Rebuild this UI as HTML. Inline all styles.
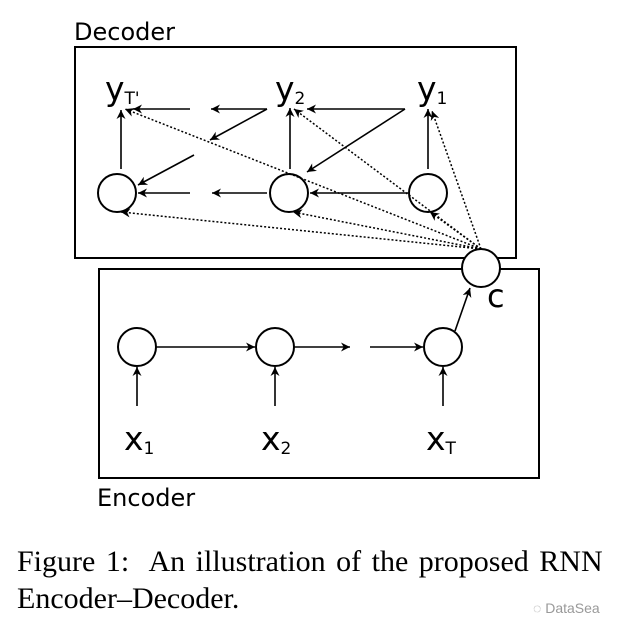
<!DOCTYPE html>
<html><head><style>
body{margin:0;background:#fff;width:638px;height:634px;overflow:hidden}
svg{position:absolute;left:0;top:0}
.cap{position:absolute;left:17px;font-family:"Liberation Serif",serif;font-size:30px;word-spacing:3px;color:#000;white-space:nowrap;line-height:30px}
</style></head><body>
<svg width="638" height="634" viewBox="0 0 638 634">
<defs>
<marker id="a" viewBox="0 0 10 10" refX="10" refY="5" markerWidth="9" markerHeight="9" markerUnits="userSpaceOnUse" orient="auto"><path d="M0,0 L10,5 L0,10 L3,5z" fill="#000"/></marker>
</defs>
<g font-family="DejaVu Sans, sans-serif" fill="#000">
<text x="74" y="40" font-size="24">Decoder</text>
<text x="97" y="506" font-size="24">Encoder</text>
<text x="105" y="100" font-size="33">y<tspan font-size="17" dy="4">T'</tspan></text>
<text x="275" y="100" font-size="33">y<tspan font-size="17" dy="4">2</tspan></text>
<text x="417" y="100" font-size="33">y<tspan font-size="17" dy="4">1</tspan></text>
<text x="124" y="450" font-size="33">x<tspan font-size="17" dy="4">1</tspan></text>
<text x="261" y="450" font-size="33">x<tspan font-size="17" dy="4">2</tspan></text>
<text x="426" y="450" font-size="33">x<tspan font-size="17" dy="4">T</tspan></text>
<text x="487" y="307" font-size="32">c</text>
</g>
<g fill="none" stroke="#000" stroke-width="2">
<rect x="75" y="47" width="441" height="211"/>
<rect x="99" y="269" width="440" height="209"/>
<circle cx="117" cy="193" r="19"/>
<circle cx="289" cy="193" r="19"/>
<circle cx="428" cy="193" r="19"/>
<circle cx="481" cy="268" r="19" fill="#fff"/>
<circle cx="137" cy="347" r="19"/>
<circle cx="275" cy="347" r="19"/>
<circle cx="443" cy="347" r="19"/>
</g>
<g stroke="#000" stroke-width="1.6" fill="none" marker-end="url(#a)">
<line x1="121" y1="169" x2="121" y2="110"/>
<line x1="290" y1="169" x2="290" y2="108"/>
<line x1="428" y1="169" x2="428" y2="109"/>
<line x1="190" y1="109" x2="133" y2="109"/>
<line x1="267" y1="109" x2="211" y2="109"/>
<line x1="267" y1="109" x2="210" y2="140"/>
<line x1="194" y1="155" x2="138" y2="185"/>
<line x1="190" y1="193" x2="138" y2="193"/>
<line x1="267" y1="193" x2="212" y2="193"/>
<line x1="405" y1="109" x2="307" y2="109"/>
<line x1="405" y1="109" x2="307" y2="172"/>
<line x1="408" y1="193" x2="310" y2="193"/>
<line x1="156" y1="347" x2="255" y2="347"/>
<line x1="294" y1="347" x2="350" y2="347"/>
<line x1="370" y1="347" x2="423" y2="347"/>
<line x1="455" y1="331" x2="470" y2="288"/>
<line x1="137" y1="406" x2="137" y2="367"/>
<line x1="275" y1="406" x2="275" y2="367"/>
<line x1="443" y1="406" x2="443" y2="367"/>
</g>
<g stroke="#000" stroke-width="1.5" fill="none" stroke-dasharray="2,2" marker-end="url(#a)">
<line x1="481" y1="249" x2="125" y2="109"/>
<line x1="481" y1="249" x2="294" y2="109"/>
<line x1="481" y1="249" x2="432" y2="111"/>
<line x1="481" y1="249" x2="121" y2="212"/>
<line x1="481" y1="249" x2="293" y2="212"/>
<line x1="481" y1="249" x2="430" y2="212"/>
</g>
<text x="533" y="613" font-family="Liberation Sans, sans-serif" font-size="14" fill="#999">◌ DataSea</text>
</svg>
<div class="cap" style="top:547px">Figure 1:&nbsp; An illustration of the proposed RNN</div>
<div class="cap" style="top:584px">Encoder–Decoder.</div>
</body></html>
